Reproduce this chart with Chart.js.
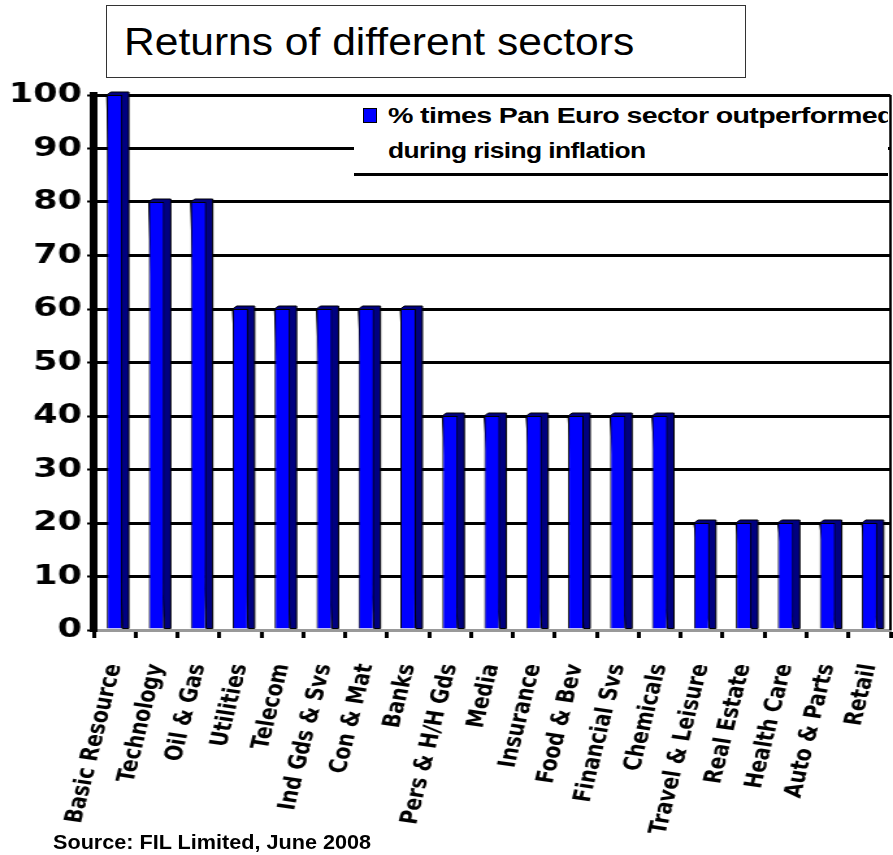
<!DOCTYPE html>
<html>
<head>
<meta charset="utf-8">
<script src="https://cdn.jsdelivr.net/npm/chart.js@4"></script>
<style>
  html, body { margin: 0; padding: 0; background: #fff; overflow: hidden; }
  #page { position: relative; width: 893px; height: 855px; }
  /* the original picture is an Excel chart stretched sideways, so the canvas is stretched too */
  #stretch { position: absolute; left: 0; top: 0; width: 687px; height: 855px;
             transform: scaleX(1.29985); transform-origin: 0 0; }
  #titleBox { position: absolute; left: 106px; top: 5px; width: 638px; height: 71px;
              border: 1.5px solid #333; background: #fff; }
  #titleBox span { position: absolute; left: 17px; top: 15px; font: 38px "Liberation Sans", Arial, sans-serif;
                   transform: scaleX(1.12); transform-origin: 0 0; white-space: nowrap; }
  #legendBox { position: absolute; left: 354px; top: 97px; width: 534px; height: 76px;
               background: #fff; border-bottom: 3px solid #000; overflow: hidden; }
  #legendBox .swatch { position: absolute; left: 9px; top: 11px; width: 12px; height: 13px;
                       background: #0000ff; border: 1px solid #000; }
  #legendBox .line { position: absolute; left: 34px; font: bold 22px "Liberation Sans", Arial, sans-serif;
                     transform-origin: 0 0; white-space: nowrap; letter-spacing: -0.5px; }
  #source { position: absolute; left: 53px; top: 830px; font: bold 21px "Liberation Sans", Arial, sans-serif;
            white-space: nowrap; transform: scaleX(1.03); transform-origin: 0 0; }
</style>
</head>
<body>
<div id="page">
  <div id="stretch"><canvas id="sectorChart" width="687" height="855"></canvas></div>
  <div id="titleBox"><span>Returns of different sectors</span></div>
  <div id="legendBox">
    <div class="swatch"></div>
    <div class="line" style="top:6px; transform:scaleX(1.3);">% times Pan Euro sector outperformed</div>
    <div class="line" style="top:41px; transform:scaleX(1.2);">during rising inflation</div>
  </div>
  <div id="source">Source: FIL Limited, June 2008</div>
</div>
<script>
// 数値は画像から読み取り
const sectors = [
    'Basic Resource', 'Technology', 'Oil & Gas', 'Utilities', 'Telecom',
    'Ind Gds & Svs', 'Con & Mat', 'Banks', 'Pers & H/H Gds', 'Media',
    'Insurance', 'Food & Bev', 'Financial Svs', 'Chemicals', 'Travel & Leisure',
    'Real Estate', 'Health Care', 'Auto & Parts', 'Retail'
];
const outperformPct = [100, 80, 80, 60, 60, 60, 60, 60, 40, 40, 40, 40, 40, 40, 20, 20, 20, 20, 20];
const seriesName = '% times Pan Euro sector outperformed during rising inflation';
const yMin = 0;
const yMax = 100;
const yStep = 10;

// 棒の右側と上面（3D風）と右端の枠線
const barDepth = {
    id: 'barDepth',
    beforeDatasetsDraw(chart) {
        const ctx = chart.ctx;
        const area = chart.chartArea;
        ctx.save();
        ctx.beginPath();
        ctx.moveTo(area.right, area.top);
        ctx.lineTo(area.right, area.bottom);
        ctx.lineWidth = 2;
        ctx.strokeStyle = '#000';
        ctx.stroke();

        const meta = chart.getDatasetMeta(0);
        meta.data.forEach(bar => {
            const p = bar.getProps(['x', 'y', 'base', 'width'], true);
            const left = p.x - p.width / 2;
            const right = p.x + p.width / 2;
            ctx.beginPath();
            ctx.moveTo(left, p.y);
            ctx.lineTo(left + 3, p.y - 3);
            ctx.lineTo(right + 5, p.y - 3);
            ctx.lineTo(right + 5, p.base);
            ctx.lineTo(right, p.base);
            ctx.closePath();
            ctx.fillStyle = '#000080';
            ctx.fill();
            ctx.lineWidth = 1;
            ctx.strokeStyle = '#000';
            ctx.stroke();
        });
        ctx.restore();
    }
};

const chart = new Chart(document.getElementById('sectorChart'), {
    type: 'bar',
    data: {
        labels: sectors,
        datasets: [{
            label: seriesName,
            data: outperformPct,
            backgroundColor: '#0000ff',
            borderColor: '#000',
            borderWidth: 1,
            barPercentage: 0.37,
            categoryPercentage: 1.0
        }]
    },
    options: {
        responsive: false,
        animation: false,
        devicePixelRatio: 1,
        layout: { padding: { top: 95, right: 2, bottom: 0, left: 0 } },
        plugins: {
            legend: { display: false },
            title: { display: false },
            tooltip: { enabled: false }
        },
        scales: {
            x: {
                offset: true,
                grid: {
                    display: true,
                    drawOnChartArea: false,
                    drawTicks: true,
                    tickLength: 8,
                    tickWidth: 3,
                    tickColor: '#000',
                    offset: true
                },
                border: { display: true, color: '#999', width: 3 },
                ticks: {
                    autoSkip: false,
                    minRotation: 79,
                    maxRotation: 79,
                    padding: 24,
                    color: '#000',
                    font: { family: 'DejaVu Sans', weight: 'bold', size: 19 }
                },
                afterFit(scale) {
                    scale.height = 225;
                    scale.paddingLeft = 0;
                    scale.paddingRight = 0;
                }
            },
            y: {
                position: 'left',
                min: yMin,
                max: yMax,
                ticks: {
                    stepSize: yStep,
                    padding: 4,
                    color: '#000',
                    font: { family: 'DejaVu Sans', weight: 'bold', size: 27 }
                },
                grid: {
                    color: ctx => (ctx.tick && ctx.tick.value === 0) ? 'rgba(0,0,0,0)' : '#000',
                    lineWidth: 3,
                    drawTicks: true,
                    tickLength: 5,
                    tickWidth: 2,
                    tickColor: '#000'
                },
                border: { display: true, color: '#000', width: 6 },
                afterFit(scale) { scale.width = 72; }
            }
        }
    },
    plugins: [barDepth]
});
</script>
</body>
</html>
